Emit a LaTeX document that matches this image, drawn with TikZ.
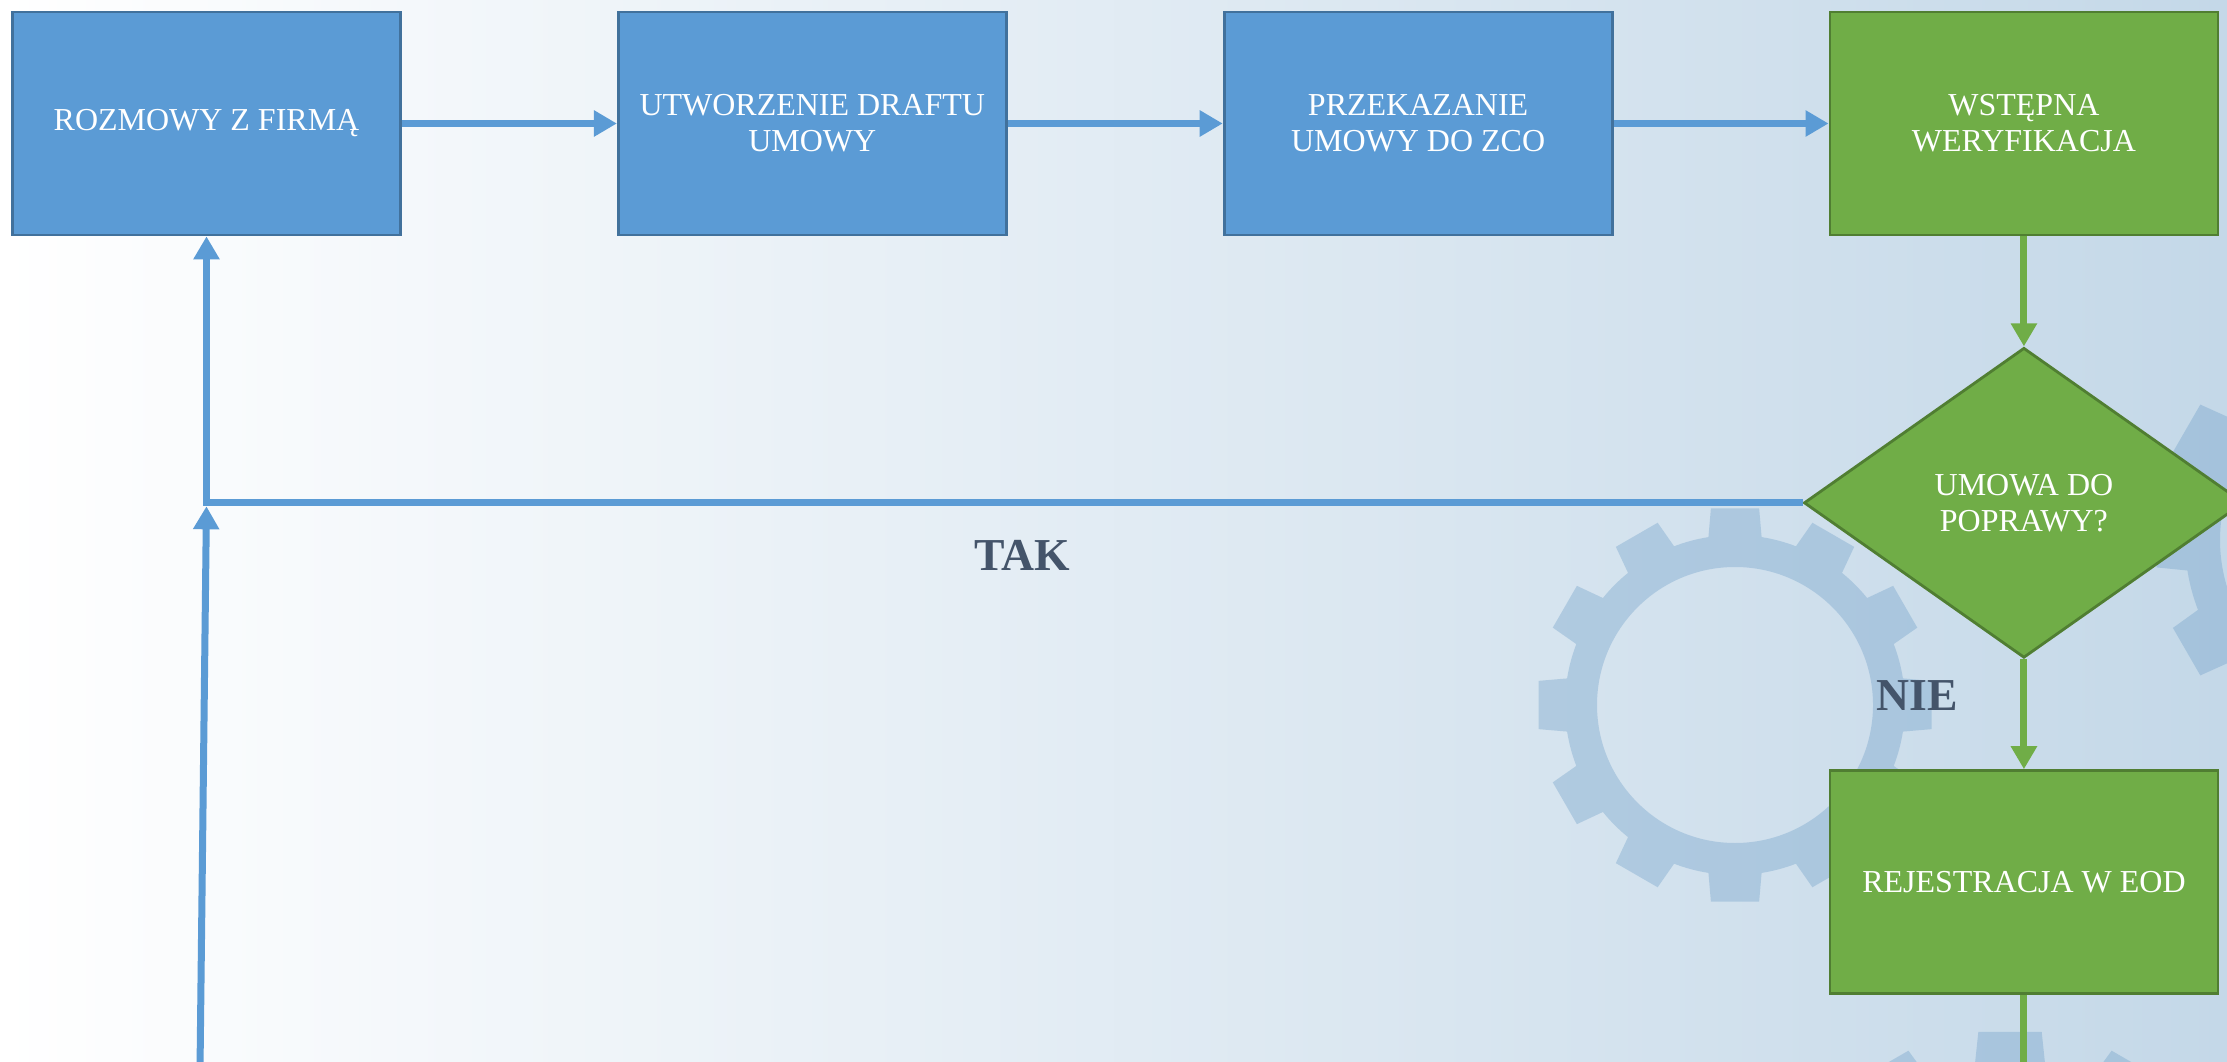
\documentclass[tikz,border=0pt]{standalone}
\usepackage{fontspec}
\setmainfont{Liberation Serif}
\usetikzlibrary{positioning,shapes.geometric,arrows.meta}

\definecolor{boxblue}{HTML}{5B9BD5}
\definecolor{boxblueline}{HTML}{41719C}
\definecolor{boxgreen}{HTML}{70AD47}
\definecolor{boxgreenline}{HTML}{507E32}
\definecolor{answergray}{HTML}{44546A}
\definecolor{bgmid}{RGB}{240,245,250}
\definecolor{bgblue}{RGB}{196,216,232}
\definecolor{gearblue}{RGB}{100,152,196}

% gear: center, tip radius, base radius, hole radius
\newcommand{\gearwheel}[4]{%
  \begin{scope}[shift={(#1)}]
    \fill[gearblue,fill opacity=0.33,even odd rule] (-9:#3)
      \foreach \a in {0,30,...,330}{
        -- (\a-9:#3) -- (\a-7:#2) -- (\a+7:#2) -- (\a+9:#3)
        arc[start angle=\a+9,end angle=\a+21,radius=#3]}
      -- cycle (0,0) circle[radius=#4];
  \end{scope}}

\begin{document}
\begin{tikzpicture}[x=0.1mm,y=-0.1mm,node distance=21.5mm,
    bluebox/.style={rectangle,draw=boxblueline,fill=boxblue,line width=0.8pt,
      minimum width=38.8mm,minimum height=22.3mm,inner sep=1mm,align=center,
      text=white,font=\fontsize{9.1}{10.3}\selectfont},
    greenbox/.style={bluebox,draw=boxgreenline,fill=boxgreen},
    decision/.style={diamond,draw=boxgreenline,fill=boxgreen,line width=0.8pt,
      minimum width=44mm,minimum height=31mm,inner sep=0pt,align=center,
      text=white,font=\fontsize{9.1}{10.3}\selectfont},
    blueflow/.style={draw=boxblue,line width=0.7mm,-{Triangle[length=2.3mm,width=2.5mm]}},
    greenflow/.style={blueflow,draw=boxgreen},
    greenline/.style={draw=boxgreen,line width=0.7mm},
    answer/.style={text=answergray,font=\fontsize{13}{15}\selectfont\bfseries}]

  \clip (0,0) rectangle (2227,1062);
  \shade[left color=white,middle color=bgmid,right color=bgblue] (0,0) rectangle (2227,1062);

  % background gears
  \gearwheel{1735,705}{198}{170}{138}
  \gearwheel{2380,540}{225}{195}{160}
  \gearwheel{2010,1290}{260}{226}{185}

  % process
  \node[bluebox] (rozmowy) at (206.5,123.5) {ROZMOWY Z FIRMĄ};
  \node[bluebox,right=of rozmowy] (draft) {UTWORZENIE DRAFTU\\UMOWY};
  \node[bluebox,right=of draft] (zco) {PRZEKAZANIE\\UMOWY DO ZCO};
  \node[greenbox,right=of zco] (wstepna) {WSTĘPNA\\WERYFIKACJA};
  \node[decision,below=11mm of wstepna] (poprawa) {UMOWA DO\\POPRAWY?};
  \node[greenbox,below=11mm of poprawa] (eod) {REJESTRACJA W EOD};

  \node[answer] (tak) at (1022,555) {TAK};
  \node[answer] (nie) at (1917,696) {NIE};

  \coordinate (styk) at (rozmowy.south |- poprawa.west);
  \coordinate (wejscie) at (200,1070);
  \coordinate (wyjscie) at (eod.south |- 0,1070);

  \path (rozmowy) edge[blueflow] (draft)
        (draft) edge[blueflow] (zco)
        (zco) edge[blueflow] (wstepna);
  \path (wstepna) edge[greenflow] (poprawa)
        (poprawa) edge[greenflow] (eod)
        (eod) edge[greenline] (wyjscie);
  \draw[blueflow] (poprawa.west) -| (rozmowy.south);
  \draw[blueflow,shorten >=0.35mm] (wejscie) -- (styk);
\end{tikzpicture}
\end{document}
